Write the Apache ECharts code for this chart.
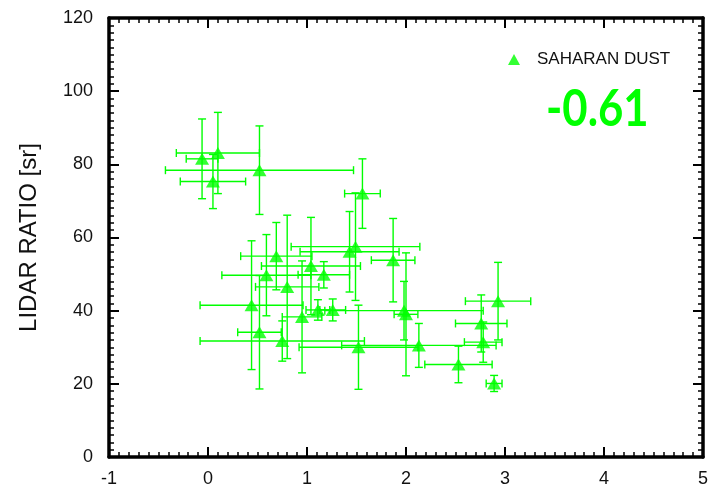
<!DOCTYPE html>
<html>
<head>
<meta charset="utf-8">
<script src="https://cdn.jsdelivr.net/npm/echarts@6/dist/echarts.min.js"></script>
<style>
  html, body { margin: 0; padding: 0; background: #fff; }
  #chart { width: 711px; height: 491px; }
</style>
</head>
<body>
<div id="chart"></div>
<script>
// Saharan dust: lidar ratio versus x-quantity, with error bars
const seriesName = 'SAHARAN DUST';
const correlationText = '-0.61';

const xValues = [-0.06, 0.10, 0.05, 0.52, 1.56, 0.69, 0.59, 0.80, 0.44, 0.52, 0.75, 0.95, 1.04, 1.17,
                 1.11, 1.26, 1.43, 1.49, 1.87, 2.00, 1.98, 1.52, 2.13, 2.53, 2.76, 2.78, 2.93, 2.89];
const yValues = [81.5, 83.1, 75.3, 78.4, 72.0, 54.9, 49.7, 46.5, 41.5, 34.1, 31.7, 38.3, 52.2, 49.8,
                 40.2, 40.2, 56.1, 57.5, 53.8, 39.0, 40.0, 30.0, 30.5, 25.3, 36.5, 31.4, 42.6, 20.1];
const xErrors = [0.16, 0.42, 0.33, 0.95, 0.18, 0.36, 0.45, 0.32, 0.52, 0.22, 0.83, 0.20, 0.50, 0.26,
                 0.12, 0.13, 0.50, 0.65, 0.22, 0.12, 0.80, 0.60, 0.78, 0.34, 0.26, 0.19, 0.33, 0.08];
const yErrors = [10.9, 11.1, 7.4, 12.1, 9.5, 9.2, 11.1, 19.6, 17.6, 15.5, 5.5, 15.3, 13.3, 3.6,
                 2.8, 3.0, 11.0, 14.7, 11.4, 16.8, 8.0, 11.5, 6.0, 5.0, 7.8, 5.5, 10.6, 2.2];

const green = '#00ff00';
const font = "'Liberation Sans', Arial, sans-serif";

const points = xValues.map((x, i) => [x, yValues[i]]);
const bars = xValues.map((x, i) => [x, yValues[i], xErrors[i], yErrors[i]]);

const cap = 4;
function renderErrorBar(params, api) {
  const x = api.value(0), y = api.value(1), ex = api.value(2), ey = api.value(3);
  const left = api.coord([x - ex, y]);
  const right = api.coord([x + ex, y]);
  const top = api.coord([x, y + ey]);
  const bottom = api.coord([x, y - ey]);
  const style = { stroke: green, lineWidth: 1.4 };
  const line = (x1, y1, x2, y2) => ({ type: 'line', shape: { x1, y1, x2, y2 }, style });
  return {
    type: 'group',
    children: [
      line(left[0], left[1], right[0], right[1]),
      line(left[0], left[1] - cap, left[0], left[1] + cap),
      line(right[0], right[1] - cap, right[0], right[1] + cap),
      line(top[0], top[1], bottom[0], bottom[1]),
      line(top[0] - cap, top[1], top[0] + cap, top[1]),
      line(bottom[0] - cap, bottom[1], bottom[0] + cap, bottom[1])
    ]
  };
}

// Boxed frame: every side carries inward major and minor ticks
function frameAxis(extra) {
  return Object.assign({
    type: 'value',
    axisLine: { show: true, onZero: false, lineStyle: { color: '#000', width: 3.5 } },
    axisTick: { show: true, inside: true, length: 10, lineStyle: { color: '#000', width: 2 } },
    minorTick: { show: true, splitNumber: 10, length: 5, lineStyle: { color: '#000', width: 1.5 } },
    splitLine: { show: false },
    axisLabel: { show: false }
  }, extra);
}
const labelStyle = { show: true, color: '#111', fontSize: 18, fontFamily: font };

const chart = echarts.init(document.getElementById('chart'));
chart.setOption({
  animation: false,
  grid: { left: 109, right: 8, top: 18, bottom: 34 },
  xAxis: [
    frameAxis({ min: -1, max: 5, interval: 1, position: 'bottom', axisLabel: Object.assign({ margin: 13 }, labelStyle) }),
    frameAxis({ min: -1, max: 5, interval: 1, position: 'top' })
  ],
  yAxis: [
    frameAxis({ min: 0, max: 120, interval: 20, position: 'left', axisLabel: Object.assign({ margin: 16 }, labelStyle),
      name: 'LIDAR RATIO [sr]', nameLocation: 'middle', nameGap: 68,
      nameTextStyle: { color: '#111', fontSize: 24, fontFamily: font } }),
    frameAxis({ min: 0, max: 120, interval: 20, position: 'right' })
  ],
  legend: {
    data: [seriesName],
    left: 503,
    top: 46,
    itemWidth: 12,
    itemHeight: 11,
    itemGap: 0,
    textStyle: { color: '#111', fontSize: 17, fontFamily: font, padding: [0, 0, 0, 12] }
  },
  graphic: [{
    type: 'text',
    x: 546,
    y: 109,
    scaleX: 0.84,
    style: {
      text: correlationText,
      fill: green,
      font: "bold 52px Lato, 'Open Sans', sans-serif",
      textVerticalAlign: 'middle'
    }
  }],
  series: [
    {
      name: 'errors',
      type: 'custom',
      renderItem: renderErrorBar,
      data: bars,
      encode: { x: 0, y: 1 },
      z: 2,
      silent: true
    },
    {
      name: seriesName,
      type: 'scatter',
      symbol: 'triangle',
      symbolSize: [14, 12],
      itemStyle: { color: green },
      data: points,
      z: 3
    }
  ]
});
</script>
</body>
</html>
